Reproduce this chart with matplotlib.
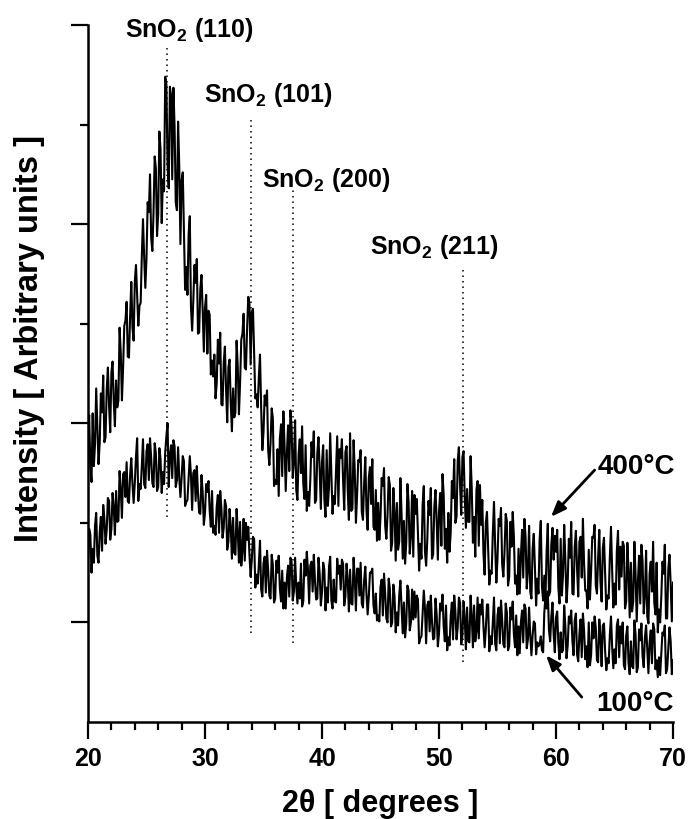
import numpy as np
import matplotlib
matplotlib.use("Agg")
import matplotlib.pyplot as plt
from matplotlib.ticker import MultipleLocator

plt.rcParams['font.family'] = ['Liberation Sans', 'DejaVu Sans']
plt.rcParams['font.weight'] = 'bold'
plt.rcParams['mathtext.fontset'] = 'custom'
plt.rcParams['mathtext.rm'] = 'Liberation Sans:bold'
plt.rcParams['mathtext.bf'] = 'Liberation Sans:bold'
plt.rcParams['mathtext.it'] = 'Liberation Sans:bold'

# ---- data (2-theta scan, 0.1 deg step, 20 -> 70 deg) ----
two_theta = np.round(np.arange(501) * 0.1 + 20.0, 2)

int_400 = [
    288, 308, 257, 241, 310, 257, 279, 335, 297, 259,
    280, 330, 311, 348, 281, 286, 334, 356, 318, 291,
    351, 362, 322, 297, 343, 316, 323, 396, 371, 323,
    356, 398, 403, 422, 367, 366, 408, 442, 396, 383,
    442, 459, 429, 398, 418, 421, 468, 505, 467, 436,
    466, 522, 512, 550, 486, 473, 512, 568, 556, 488,
    510, 593, 575, 501, 545, 533, 648, 640, 560, 536,
    638, 629, 545, 637, 598, 522, 514, 603, 558, 480,
    544, 552, 495, 434, 457, 429, 490, 508, 417, 393,
    423, 459, 441, 465, 390, 391, 435, 449, 414, 372,
    416, 429, 370, 413, 409, 349, 363, 347, 369, 325,
    340, 384, 360, 391, 319, 318, 361, 377, 334, 301,
    356, 364, 320, 292, 335, 306, 311, 383, 357, 309,
    341, 384, 390, 410, 356, 354, 396, 427, 420, 359,
    412, 415, 371, 325, 329, 316, 346, 369, 316, 273,
    291, 328, 318, 333, 273, 258, 280, 315, 305, 237,
    243, 239, 274, 227, 285, 299, 247, 312, 277, 232,
    270, 298, 252, 313, 297, 245, 262, 303, 233, 223,
    269, 284, 250, 297, 239, 224, 278, 212, 231, 217,
    243, 281, 266, 292, 220, 223, 270, 286, 254, 214,
    261, 278, 224, 206, 273, 217, 236, 290, 250, 209,
    227, 219, 253, 287, 217, 274, 265, 284, 243, 213,
    271, 277, 232, 203, 290, 212, 214, 283, 253, 200,
    228, 263, 261, 273, 211, 203, 239, 266, 213, 193,
    245, 256, 219, 264, 196, 193, 233, 182, 220, 183,
    206, 245, 237, 255, 197, 184, 208, 246, 238, 172,
    180, 235, 210, 162, 220, 173, 181, 245, 209, 164,
    202, 159, 180, 239, 221, 169, 187, 232, 166, 228,
    209, 224, 190, 152, 179, 164, 218, 237, 171, 157,
    183, 222, 208, 235, 164, 168, 216, 233, 202, 163,
    211, 230, 177, 249, 228, 174, 194, 160, 210, 171,
    190, 242, 225, 264, 200, 206, 262, 276, 238, 208,
    266, 272, 226, 195, 234, 201, 201, 267, 234, 180,
    206, 166, 233, 242, 177, 238, 198, 223, 169, 148,
    200, 211, 175, 138, 152, 149, 190, 221, 177, 140,
    164, 204, 197, 215, 158, 146, 171, 209, 202, 137,
    146, 201, 176, 211, 186, 139, 147, 128, 174, 129,
    167, 193, 145, 204, 186, 134, 152, 197, 131, 124,
    174, 189, 155, 117, 144, 129, 183, 202, 136, 122,
    147, 124, 172, 199, 127, 131, 178, 195, 163, 187,
    171, 193, 135, 119, 184, 127, 148, 198, 162, 120,
    140, 184, 165, 201, 129, 128, 176, 192, 154, 126,
    181, 186, 145, 204, 159, 132, 132, 114, 173, 123,
    151, 186, 185, 198, 137, 129, 165, 193, 141, 121,
    174, 185, 149, 113, 127, 124, 165, 196, 152, 115,
    139, 118, 172, 192, 133, 176, 146, 181, 177, 114,
    121, 180, 151, 105, 160, 111, 121, 181, 148, 101,
    141, 167, 119, 178, 161, 109, 127, 172, 106, 99,
    149, 161, 131, 181, 120, 108, 160, 90, 113, 100,
    126, 161, 149, 178, 104, 104, 154, 168, 139, 101,
    140]

int_100 = [
    163, 194, 188, 150, 174, 160, 197, 210, 167, 160,
    190, 206, 172, 218, 204, 179, 193, 225, 222, 183,
    194, 230, 216, 188, 232, 201, 202, 252, 233, 205,
    249, 251, 226, 261, 222, 220, 248, 265, 239, 220,
    240, 266, 285, 222, 239, 234, 257, 284, 239, 235,
    272, 279, 243, 285, 265, 240, 236, 280, 270, 232,
    236, 275, 264, 230, 251, 239, 271, 287, 300, 236,
    268, 278, 245, 283, 277, 236, 243, 276, 245, 226,
    245, 267, 262, 217, 221, 223, 245, 267, 248, 213,
    250, 253, 222, 257, 230, 210, 209, 248, 231, 198,
    210, 239, 231, 242, 212, 196, 232, 190, 197, 188,
    216, 228, 190, 232, 215, 185, 195, 223, 217, 173,
    181, 214, 196, 164, 205, 170, 168, 214, 192, 160,
    201, 157, 172, 204, 162, 200, 183, 196, 168, 146,
    163, 186, 184, 135, 148, 139, 158, 182, 133, 126,
    159, 166, 130, 172, 152, 127, 124, 168, 158, 120,
    124, 162, 150, 167, 134, 121, 152, 114, 140, 114,
    145, 157, 126, 165, 161, 122, 131, 165, 136, 119,
    140, 124, 159, 116, 121, 163, 147, 171, 153, 119,
    157, 161, 131, 168, 142, 123, 124, 165, 149, 117,
    130, 160, 153, 112, 135, 120, 156, 166, 122, 114,
    143, 121, 120, 164, 149, 157, 133, 163, 159, 117,
    126, 159, 142, 111, 153, 119, 118, 165, 144, 112,
    154, 154, 127, 160, 119, 115, 142, 156, 129, 108,
    126, 150, 150, 154, 117, 109, 129, 102, 107, 101,
    136, 143, 107, 149, 129, 104, 100, 144, 134, 96,
    100, 138, 126, 90, 110, 97, 127, 142, 115, 89,
    120, 85, 99, 137, 132, 92, 100, 133, 103, 131,
    105, 127, 123, 79, 84, 86, 109, 132, 114, 79,
    117, 121, 91, 127, 101, 83, 84, 124, 108, 76,
    89, 119, 112, 128, 96, 81, 117, 72, 85, 77,
    106, 120, 83, 127, 111, 83, 95, 125, 120, 78,
    87, 121, 104, 73, 115, 81, 80, 127, 106, 75,
    117, 81, 91, 125, 84, 118, 108, 123, 96, 75,
    93, 118, 118, 71, 86, 78, 100, 125, 79, 72,
    107, 115, 79, 122, 102, 78, 75, 119, 110, 72,
    76, 115, 103, 121, 88, 75, 107, 67, 96, 69,
    100, 112, 80, 118, 114, 74, 83, 115, 87, 67,
    87, 101, 99, 68, 80, 76, 78, 86, 72, 70,
    110, 126, 114, 131, 92, 81, 106, 120, 88, 70,
    105, 111, 79, 63, 90, 70, 72, 117, 96, 64,
    77, 106, 99, 112, 82, 67, 102, 109, 68, 61,
    88, 103, 65, 109, 92, 63, 76, 55, 100, 57,
    67, 100, 84, 106, 95, 62, 60, 103, 86, 56,
    97, 99, 71, 52, 64, 59, 87, 106, 75, 54,
    73, 59, 97, 103, 65, 96, 79, 100, 57, 53,
    87, 96, 59, 48, 81, 56, 54, 102, 88, 50,
    55, 93, 82, 99, 66, 55, 85, 97, 74, 49,
    80, 92, 59, 99, 93, 53, 62, 45, 65, 47,
    68, 90, 87, 97, 49, 53, 75, 95, 81, 48,
    62]

# reflections: label, position, dotted-line bottom/top, label anchor
peak_labels = ['(110)', '(101)', '(200)', '(211)']
peak_pos = [26.71, 33.97, 37.56, 52.05]
peak_ymin = [206, 89, 79, 60]
peak_ymax = [677, 606, 534, 456]
label_xy = [(23.16, 688), (29.91, 623), (34.87, 537), (44.1, 470)]

x_ticks = [20, 30, 40, 50, 60, 70]

# ---- figure ----
fig = plt.figure(figsize=(6.88, 8.19), dpi=100)
ax = fig.add_axes([88 / 688, 1 - 722 / 819, 585 / 688, 697 / 819])

ax.plot(two_theta, int_400, color='black', lw=1.5)
ax.plot(two_theta, int_100, color='black', lw=1.5)

for lab, p, y0, y1, (tx, ty) in zip(peak_labels, peak_pos, peak_ymin, peak_ymax, label_xy):
    ax.vlines(p, y0, y1, colors='black', linestyles=(0, (1, 2.6)), lw=1.1)
    ax.text(tx, ty, r'SnO$_{2}$ ' + lab, fontsize=18, fontweight='bold',
            ha='left', va='baseline')

ax.set_xlim(20, 70)
ax.set_ylim(0, 700)
ax.set_xticks(x_ticks)
ax.xaxis.set_minor_locator(MultipleLocator(2))
ax.set_yticks([100, 300, 500, 700])
ax.set_yticks([200, 400, 600], minor=True)
ax.set_yticklabels([])
ax.tick_params(axis='both', which='major', direction='out', length=12, width=1.6,
               labelsize=18, pad=6)
ax.tick_params(axis='both', which='minor', direction='out', length=6, width=1.6)
for lbl in ax.get_xticklabels():
    lbl.set_fontweight('bold')

for s in ['top', 'right']:
    ax.spines[s].set_visible(False)
for s in ['left', 'bottom']:
    ax.spines[s].set_linewidth(1.8)

# temperature labels with arrows
ax.annotate('', xy=(59.57, 206), xytext=(63.3, 253),
            arrowprops=dict(arrowstyle='-|>,head_length=0.9,head_width=0.35',
                            lw=2, color='black', shrinkA=0, shrinkB=0))
ax.text(63.6, 249, '400°C', fontsize=20, fontweight='bold', ha='left', va='baseline')
ax.annotate('', xy=(59.15, 67), xytext=(62.2, 25),
            arrowprops=dict(arrowstyle='-|>,head_length=0.9,head_width=0.35',
                            lw=2, color='black', shrinkA=0, shrinkB=0))
ax.text(63.45, 11, '100°C', fontsize=20, fontweight='bold', ha='left', va='baseline')

fig.text(380 / 688, 1 - 812 / 819, '2θ [ degrees ]', fontsize=22, fontweight='bold',
         ha='center', va='baseline')
fig.text(30 / 688, 1 - 338 / 819, 'Intensity [ Arbitrary units ]', fontsize=23.5,
         fontweight='bold', rotation=90, ha='center', va='center')

fig.savefig('out.png', dpi=100)
